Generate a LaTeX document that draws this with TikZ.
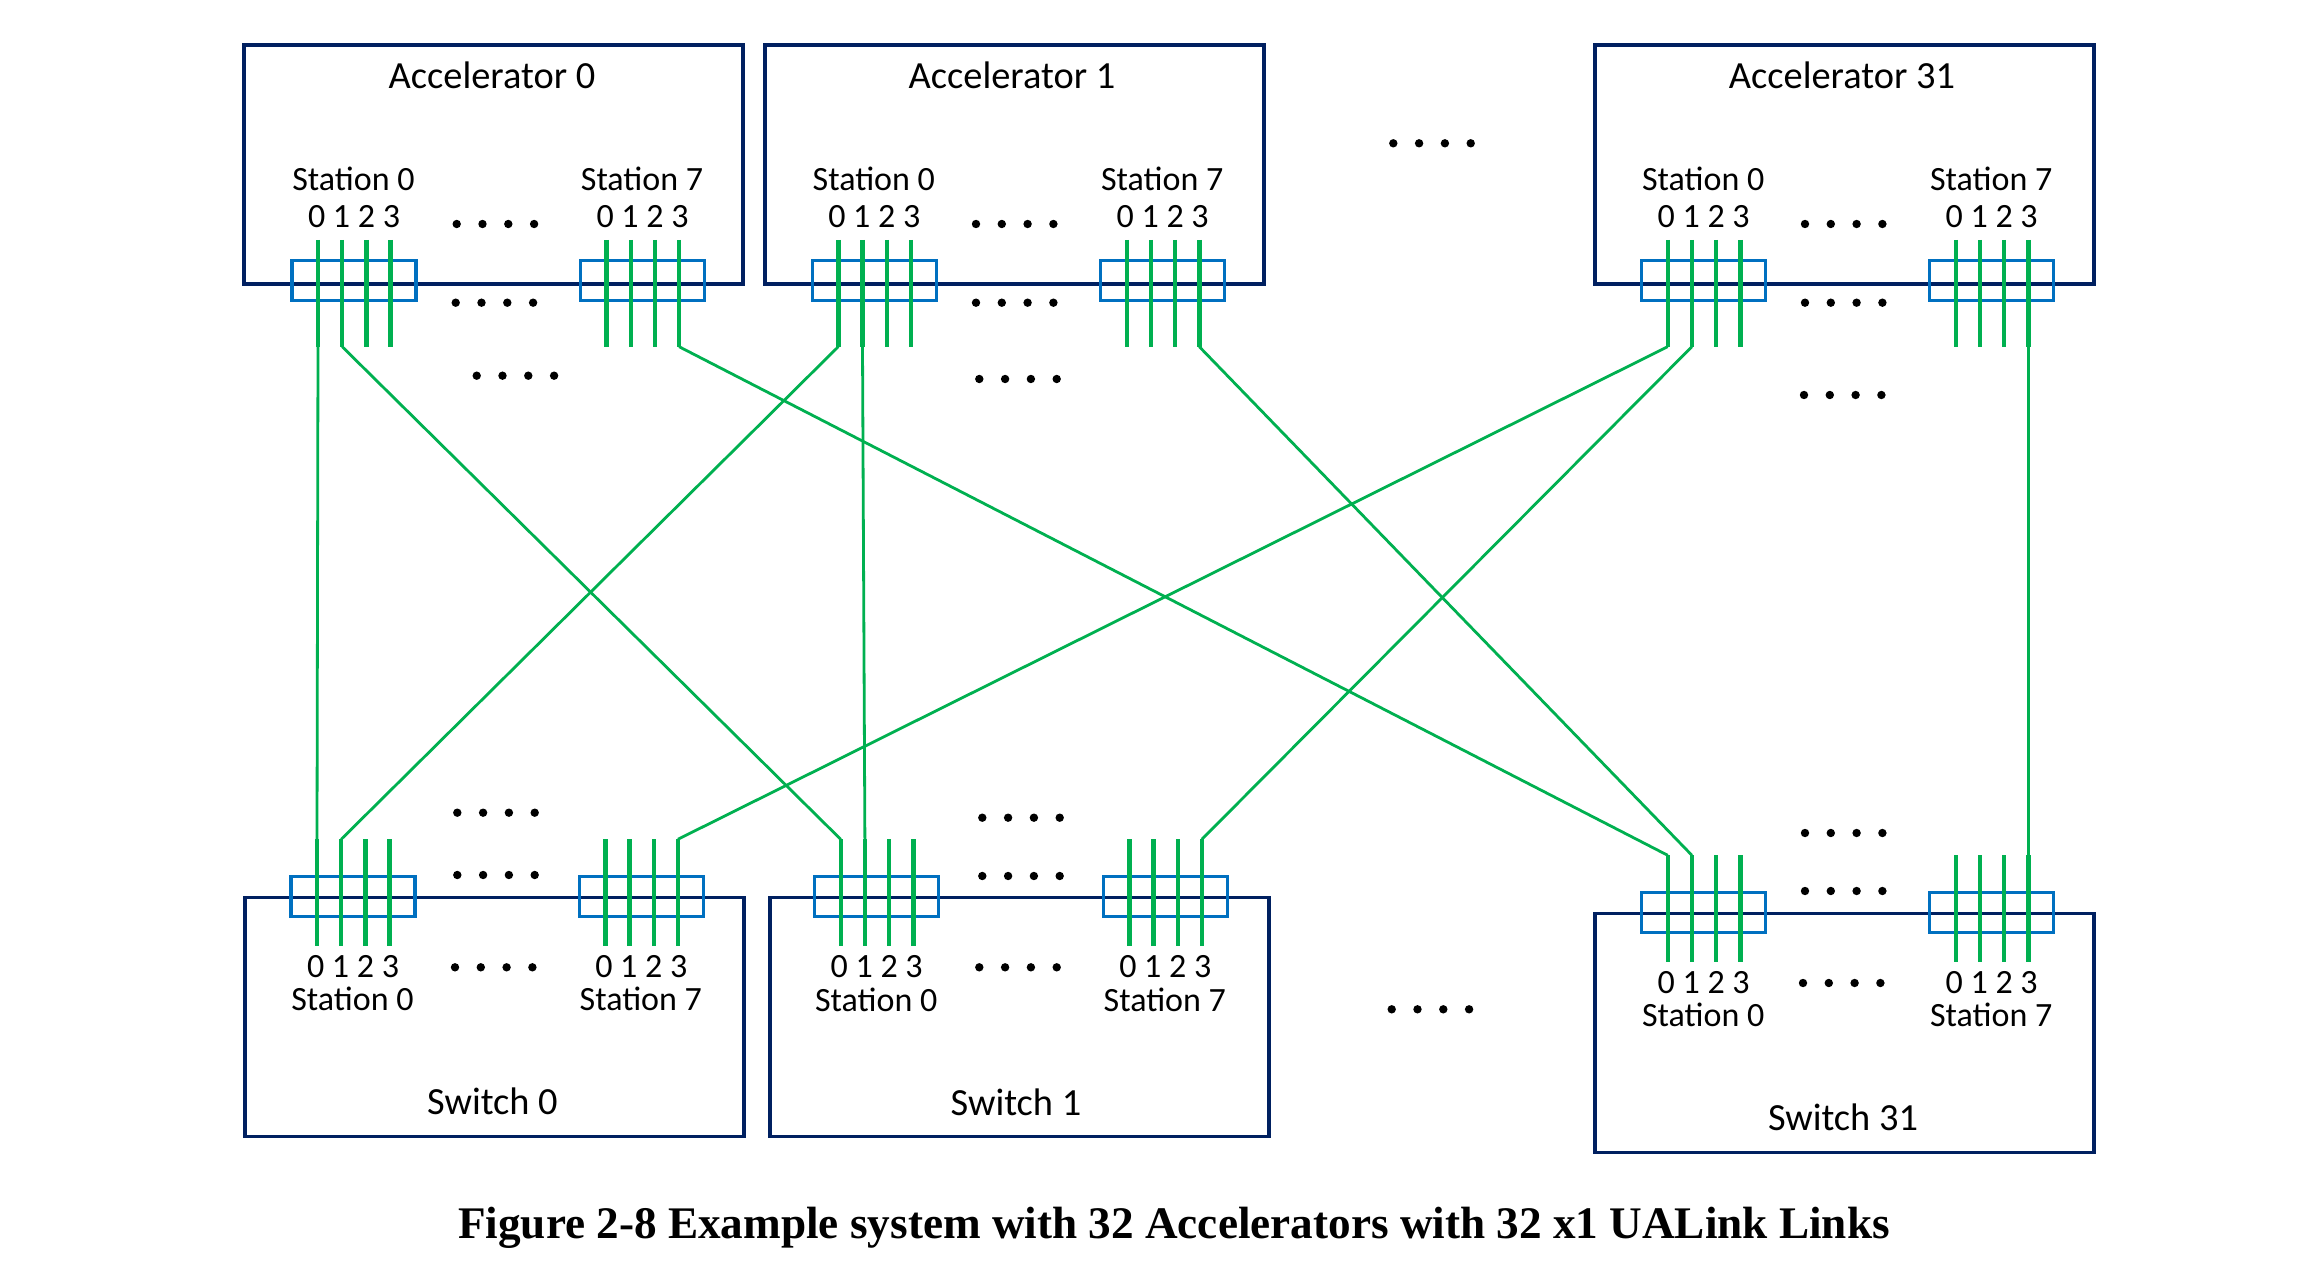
\documentclass[tikz,border=0pt]{standalone}
\usepackage{fontspec}
\setmainfont{Carlito}
\newfontfamily\capfont{Liberation Serif}
\usetikzlibrary{positioning,calc}
\definecolor{BoxNavy}{RGB}{0,32,96}
\definecolor{PortBlue}{RGB}{0,112,192}
\definecolor{LinkGreen}{RGB}{0,176,80}
\tikzset{
  unit/.style={draw=BoxNavy,line width=1.8pt,minimum width=249.5pt,minimum height=119.5pt,
    inner sep=0pt,anchor=north west},
  port/.style={draw=PortBlue,line width=1.6pt,minimum width=62pt,minimum height=20pt,inner sep=0pt},
  stub/.style={draw=LinkGreen,line width=2.2pt},
  link/.style={draw=LinkGreen,line width=1.4pt},
  title/.style={font=\fontsize{19.2}{22}\selectfont,anchor=base,inner sep=0pt},
  lbl/.style={font=\fontsize{17}{20}\selectfont,anchor=base,inner sep=0pt},
  caption/.style={font=\capfont\bfseries\fontsize{22.6}{26}\selectfont,anchor=base,inner sep=0pt},
}

\begin{document}
\begin{tikzpicture}[x=0.5pt,y=-0.5pt]
\useasboundingbox (0,0) rectangle (2320,1262);

% accelerators and switches
\node[unit] (acc0) at (242,43.3) {};
\node[unit] (acc1) at (763,43.3) {};
\node[unit] (acc31) at (1593,43.3) {};
\node[unit] (sw0) at (243,895.7) {};
\node[unit] (sw1) at (768,895.7) {};
\node[unit] (sw31) at (1593,911.7) {};

\node[title] (acc0-t) at (492,88.3) {Accelerator 0};
\node[title] (acc1-t) at (1012,88.3) {Accelerator 1};
\node[title] (acc31-t) at (1842,88.3) {Accelerator 31};
\node[title] (sw0-t) at (492.5,1114.3) {Switch 0};
\node[title] (sw1-t) at (1016,1115) {Switch 1};
\node[title] (sw31-t) at (1843,1130.5) {Switch 31};

% stations: name/first port x/stub top/stub bottom/box y/number/label y/digits y
\foreach \n/\x/\yt/\yb/\yc/\k/\ys/\yd in {
  a0s0/318/240/346.7/280.7/0/190.7/227.3,
  a0s7/606.5/240/346.7/280.7/7/190.7/227.3,
  a1s0/838.3/240/346.7/280.7/0/190.7/227.3,
  a1s7/1126.7/240/346.7/280.7/7/190.7/227.3,
  a31s0/1667.7/240/346.7/280.7/0/190.7/227.3,
  a31s7/1955.7/240/346.7/280.7/7/190.7/227.3,
  w0s0/317/839.3/945.7/896.4/0/1010.7/977.3,
  w0s7/605.3/839.3/945.7/896.4/7/1010.7/977.3,
  w1s0/840.7/839.3/945.7/896.6/0/1011/977.5,
  w1s7/1129.3/839.3/945.7/896.6/7/1011/977.5,
  w31s0/1667.7/855.3/961.7/912.4/0/1026.7/993.3,
  w31s7/1955.7/855.3/961.7/912.4/7/1026.7/993.3}{
  \node[port] (\n) at ({\x+36},\yc) {};
  \node[lbl] (\n-name) at ({\x+35.5},\ys) {Station \k};
  \node[lbl] (\n-num) at ({\x+36},\yd) {0 1 2 3};
  \foreach \i in {0,...,3}
    \draw[stub] ({\x+\i*24.2},\yt) coordinate (\n-\i-t) -- ({\x+\i*24.2},\yb) coordinate (\n-\i-b);
}

% links
\draw[link] (a0s0-0-b) -- (w0s0-0-t);
\draw[link] (a0s0-1-b) -- (w1s0-0-t);
\draw[link] (a0s7-3-b) -- (w31s0-0-t);
\draw[link] (a1s0-0-b) -- (w0s0-1-t);
\draw[link] (a1s0-1-b) -- (w1s0-1-t);
\draw[link] (a1s7-3-b) -- (w31s0-1-t);
\draw[link] (a31s0-0-b) -- (w0s7-3-t);
\draw[link] (a31s0-1-b) -- (w1s7-3-t);
\draw[link] (a31s7-3-b) -- (w31s7-3-t);

% dots
\foreach \x/\y in {456.7/224, 455.7/302.7, 476.7/375.7,
  976/224, 976/302.7, 979.3/379,
  1805/224, 1805/302.7, 1804/395, 1393.3/143.3,
  457.3/812.7, 457.3/875, 455/967.3,
  982.3/817.7, 982.3/876, 979.3/967.3,
  1805/833, 1805/891, 1803/983, 1391.7/1009.3}
  \foreach \j in {0,...,3}
    \fill ({\x+\j*25.8},\y) circle[radius=2.1pt];

\node[caption] (cap) at (1174,1238) {Figure 2-8 Example system with 32 Accelerators with 32 x1 UALink Links};
\end{tikzpicture}
\end{document}
